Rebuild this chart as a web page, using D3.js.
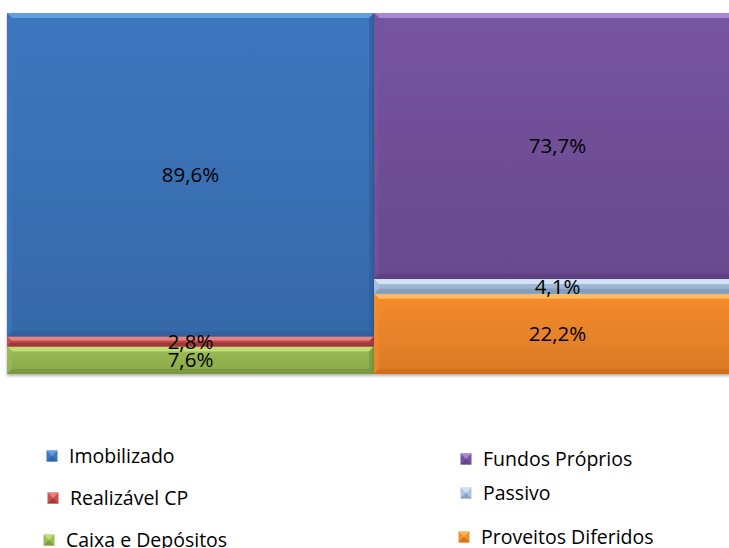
<!DOCTYPE html>
<html>
<head>
<meta charset="utf-8">
<script src="https://cdn.jsdelivr.net/npm/d3@7"></script>
<style>
  body { margin: 0; background: #fff; }
  svg { display: block; font-family: "Open Sans", "Lato", sans-serif; }
</style>
</head>
<body>
<div id="chart"></div>
<script>
// two 100% stacked columns, bottom segment first
const columns = ["Ativo", "Passivo"];
const ativoNames = ["Caixa e Depósitos", "Realizável CP", "Imobilizado"];
const ativoValues = [7.6, 2.8, 89.6];
const passivoNames = ["Proveitos Diferidos", "Passivo", "Fundos Próprios"];
const passivoValues = [22.2, 4.1, 73.7];

const colors = {
  "Imobilizado": ["#6aa6e6", "#3d77bf", "#2f5f9c"],
  "Realizável CP": ["#f08a88", "#c9504d", "#9a3634"],
  "Caixa e Depósitos": ["#c6e27e", "#9bbd55", "#76963c"],
  "Fundos Próprios": ["#b58ee0", "#7654a0", "#5c3f80"],
  "Passivo": ["#dbe8f8", "#a9c3e2", "#7f98b8"],
  "Proveitos Diferidos": ["#ffc26a", "#f68b2c", "#cf6c1c"]
};

const legendLeft = [
  {name: "Imobilizado", x: 52, y: 456},
  {name: "Realizável CP", x: 53, y: 498},
  {name: "Caixa e Depósitos", x: 49, y: 540}
];
const legendRight = [
  {name: "Fundos Próprios", x: 466, y: 459},
  {name: "Passivo", x: 466, y: 493},
  {name: "Proveitos Diferidos", x: 464, y: 537}
];

const width = 729, height = 548;

const svg = d3.select("#chart").append("svg")
  .attr("width", width)
  .attr("height", height);

const defs = svg.append("defs");
Object.keys(colors).forEach((k, i) => {
  const g = defs.append("linearGradient")
    .attr("id", "grad" + i)
    .attr("x1", 0).attr("y1", 0).attr("x2", 0).attr("y2", 1);
  g.append("stop").attr("offset", "0%").attr("stop-color", colors[k][1]);
  g.append("stop").attr("offset", "100%").attr("stop-color", d3.color(colors[k][1]).darker(0.35));
  colors[k].grad = "url(#grad" + i + ")";
});

const shadow = defs.append("filter").attr("id", "shadow")
  .attr("x", "-5%").attr("y", "-5%").attr("width", "110%").attr("height", "115%");
shadow.append("feDropShadow").attr("dx", 0).attr("dy", 2).attr("stdDeviation", 1.5)
  .attr("flood-color", "#000").attr("flood-opacity", 0.3);

const x = d3.scaleBand().domain(columns).range([7, 741]).paddingInner(0).paddingOuter(0);
const y = d3.scaleLinear().domain([0, 100]).range([374, 13]);

function stackOf(names, values) {
  let acc = 0;
  return names.map((n, i) => {
    const d = {name: n, value: values[i], y0: acc, y1: acc + values[i]};
    acc += values[i];
    return d;
  });
}

const data = [
  {col: "Ativo", segs: stackOf(ativoNames, ativoValues)},
  {col: "Passivo", segs: stackOf(passivoNames, passivoValues)}
];

const bevel = 5;

data.forEach(col => {
  const g = svg.append("g").attr("filter", "url(#shadow)");
  const x0 = x(col.col), w = x.bandwidth();
  col.segs.forEach(s => {
    const top = y(s.y1), bot = y(s.y0), h = bot - top;
    const c = colors[s.name];
    const b = Math.min(bevel, h / 2.5);
    g.append("rect")
      .attr("x", x0).attr("y", top).attr("width", w).attr("height", h)
      .attr("fill", c.grad);
    // bevel edges
    g.append("polygon")
      .attr("points", [[x0, top], [x0 + w, top], [x0 + w - b, top + b], [x0 + b, top + b]].join(" "))
      .attr("fill", c[0]).attr("opacity", 0.85);
    g.append("polygon")
      .attr("points", [[x0, top], [x0 + b, top + b], [x0 + b, bot - b], [x0, bot]].join(" "))
      .attr("fill", c[1]).attr("opacity", 0.6);
    g.append("polygon")
      .attr("points", [[x0 + w, top], [x0 + w, bot], [x0 + w - b, bot - b], [x0 + w - b, top + b]].join(" "))
      .attr("fill", c[2]).attr("opacity", 0.7);
    g.append("polygon")
      .attr("points", [[x0, bot], [x0 + w, bot], [x0 + w - b, bot - b], [x0 + b, bot - b]].join(" "))
      .attr("fill", c[2]).attr("opacity", 0.8);
  });
  // labels
  col.segs.forEach(s => {
    svg.append("text")
      .attr("x", x0 + w / 2)
      .attr("y", y((s.y0 + s.y1) / 2))
      .attr("dy", "0.35em")
      .attr("text-anchor", "middle")
      .attr("font-size", 20.5)
      .attr("fill", "#000")
      .text(String(s.value.toFixed(1)).replace(".", ",") + "%");
  });
});

// legend
const legend = svg.append("g");
legendLeft.concat(legendRight).forEach(d => {
  const c = colors[d.name];
  const s = 11;
  const lx = d.x - s / 2, ly = d.y - s / 2;
  legend.append("rect").attr("x", lx).attr("y", ly).attr("width", s).attr("height", s).attr("fill", c[1]);
  legend.append("polygon")
    .attr("points", [[lx, ly], [lx + s, ly], [lx + s / 2, ly + s / 2]].join(" "))
    .attr("fill", c[0]).attr("opacity", 0.8);
  legend.append("polygon")
    .attr("points", [[lx, ly + s], [lx + s, ly + s], [lx + s / 2, ly + s / 2]].join(" "))
    .attr("fill", c[2]).attr("opacity", 0.8);
  legend.append("text")
    .attr("x", d.x + 17)
    .attr("y", d.y)
    .attr("dy", "0.35em")
    .attr("font-size", 19.5)
    .attr("fill", "#000")
    .text(d.name);
});
</script>
</body>
</html>
